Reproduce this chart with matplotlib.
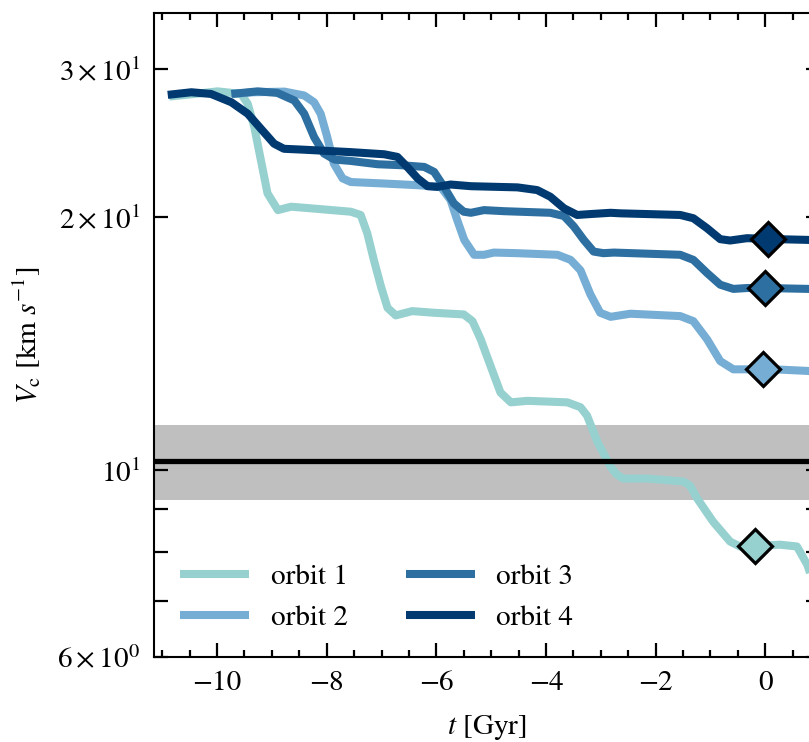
import numpy as np
import matplotlib
matplotlib.use("Agg")
import matplotlib.pyplot as plt

plt.rcParams['font.family'] = 'STIXGeneral'
plt.rcParams['mathtext.fontset'] = 'stix'
plt.rcParams['font.size'] = 21

# circular velocity histories along each orbit, t in Gyr, V_c in km/s
t_orbit1 = [-10.87, -10.41, -9.99, -9.56, -9.44, -9.32, -9.20, -9.08, -8.89, -8.65,
            -8.29, -7.56, -7.38, -7.26, -7.14, -7.01, -6.89, -6.74, -6.44, -6.04,
            -5.50, -5.34, -5.19, -5.01, -4.83, -4.64, -4.34, -3.61, -3.37, -3.25,
            -3.06, -2.82, -2.71, -2.59, -2.15, -1.49, -1.37, -1.24, -0.95, -0.64,
            -0.46, -0.18, 0.27, 0.58, 0.77, 0.91]
v_orbit1 = [27.84, 28.04, 28.24, 28.04, 27.29, 25.60, 23.38, 21.36, 20.40, 20.59,
            20.50, 20.31, 20.13, 19.15, 17.80, 16.55, 15.61, 15.29, 15.47, 15.40,
            15.33, 15.05, 14.32, 13.31, 12.38, 12.05, 12.10, 12.05, 11.89, 11.62,
            10.81, 10.10, 9.89, 9.78, 9.78, 9.70, 9.59, 9.26, 8.69, 8.23,
            8.12, 8.13, 8.16, 8.12, 7.72, 7.24]

t_orbit2 = [-9.71, -9.33, -8.77, -8.41, -8.23, -8.11, -7.99, -7.87, -7.71, -7.56,
            -6.95, -6.34, -5.92, -5.74, -5.62, -5.49, -5.31, -5.13, -4.95, -4.52,
            -3.79, -3.55, -3.37, -3.19, -3.01, -2.82, -2.46, -1.55, -1.31, -1.06,
            -0.82, -0.58, -0.33, -0.04, 0.80, 1.00]
v_orbit2 = [28.04, 28.17, 28.22, 27.92, 27.41, 26.56, 24.92, 23.17, 22.25, 22.03,
            21.94, 21.84, 21.74, 20.97, 19.86, 18.80, 18.05, 18.05, 18.16, 18.13,
            18.05, 17.80, 17.30, 16.20, 15.40, 15.23, 15.36, 15.26, 15.05, 14.32,
            13.49, 13.19, 13.19, 13.21, 13.13, 13.12]

t_orbit3 = [-9.74, -9.26, -8.90, -8.59, -8.41, -8.23, -8.05, -7.86, -7.56, -7.07,
            -6.65, -6.22, -6.04, -5.86, -5.68, -5.50, -5.37, -5.13, -4.77, -3.92,
            -3.67, -3.49, -3.31, -3.13, -2.95, -2.76, -1.55, -1.31, -1.06, -0.82,
            -0.58, -0.33, 0.00, 0.80, 1.00]
v_orbit3 = [28.04, 28.24, 28.12, 27.54, 26.56, 24.92, 23.82, 23.43, 23.34, 23.13,
            23.07, 22.96, 22.65, 21.74, 20.78, 20.31, 20.25, 20.40, 20.34, 20.25,
            20.07, 19.50, 18.80, 18.21, 18.13, 18.16, 18.05, 17.80, 17.17, 16.63,
            16.44, 16.48, 16.48, 16.44, 16.43]

t_orbit4 = [-10.90, -10.47, -10.11, -9.74, -9.44, -9.20, -8.96, -8.78, -8.42, -7.56,
            -6.95, -6.71, -6.53, -6.34, -6.16, -5.98, -5.74, -5.37, -4.52, -4.16,
            -3.92, -3.67, -3.43, -3.19, -2.82, -2.64, -1.55, -1.31, -1.06, -0.82,
            -0.64, -0.33, 0.06, 0.80, 1.00]
v_orbit4 = [27.97, 28.17, 28.04, 27.41, 26.56, 25.49, 24.47, 24.13, 24.07, 23.91,
            23.77, 23.60, 22.96, 22.25, 21.78, 21.74, 21.88, 21.78, 21.71, 21.55,
            21.16, 20.50, 20.13, 20.18, 20.25, 20.22, 20.13, 19.95, 19.41, 18.84,
            18.77, 18.89, 18.85, 18.80, 18.79]

# present-day positions of each satellite
t_now = [-0.18, -0.04, 0.00, 0.06]
v_now = [8.13, 13.21, 16.48, 18.85]

# observed value and its range
v_obs = 10.26
v_obs_lo, v_obs_hi = 9.21, 11.32

labels = ['orbit 1', 'orbit 2', 'orbit 3', 'orbit 4']
colors = ['#96d0cf', '#76add4', '#2d6fa0', '#003a70']
ts = [t_orbit1, t_orbit2, t_orbit3, t_orbit4]
vs = [v_orbit1, v_orbit2, v_orbit3, v_orbit4]

fig = plt.figure(figsize=(8.09, 7.42), dpi=100)
ax = fig.add_axes([0.1904, 0.1146, 0.8232, 0.8679])

ax.axhspan(v_obs_lo, v_obs_hi, color='#bfbfbf', lw=0, zorder=1)
ax.axhline(v_obs, color='k', lw=3.8, zorder=5)

for t, v, c, lab in zip(ts, vs, colors, labels):
    ax.plot(t, v, color=c, lw=5.8, label=lab, zorder=3,
            solid_capstyle='butt', solid_joinstyle='round')
for tn, vn, c in zip(t_now, v_now, colors):
    ax.plot(tn, vn, 'D', ms=17.5, mfc=c, mec='k', mew=2.3, zorder=6)

ax.set_yscale('log')
ax.set_xlim(-11.15, 1.0)
ax.set_ylim(6, 35)
ax.set_xlabel(r'$t$ [Gyr]', labelpad=12)
ax.set_ylabel(r'$V_{\rm c}$ [km $s^{-1}$]', labelpad=10)

ax.xaxis.set_minor_locator(matplotlib.ticker.MultipleLocator(0.5))
ax.tick_params(which='both', direction='in', top=True, right=True, width=1.6, pad=10)
ax.tick_params(axis='x', which='major', length=10)
ax.tick_params(axis='x', which='minor', length=5)
ax.tick_params(axis='y', which='both', length=10)
for s in ax.spines.values():
    s.set_linewidth(1.5)

ax.legend(loc='lower left', ncol=2, frameon=False, handlelength=2.35,
          handletextpad=0.75)

fig.savefig('out.png', dpi=100)
